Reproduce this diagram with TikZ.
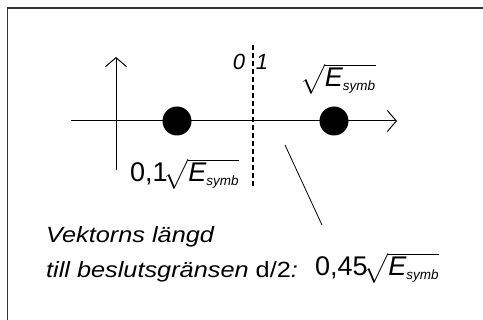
\documentclass[tikz,border=0pt]{standalone}
\usepackage{amsmath}
\usepackage{fontspec}
\setmainfont{Liberation Sans}
\newfontfamily\widefont[FakeStretch=1.15]{Liberation Sans}
\usetikzlibrary{arrows.meta,positioning}
\newcommand{\Esymb}{\!\sqrt{\textit{E}_{\mbox{\fontsize{13.5}{16}\selectfont\itshape symb}}}}

\begin{document}
\begin{tikzpicture}[x=1pt,y=-1pt,
  axis/.style={line width=1pt,-{Straight Barb[length=9pt,width=21pt]}},
  dot/.style={circle,fill=black,inner sep=0pt,minimum size=29pt},
  lbl/.style={inner sep=0pt,anchor=base west,font=\fontsize{27}{32}\selectfont},
  bit/.style={inner sep=0pt,font=\fontsize{22}{26}\selectfont\itshape},
  txt/.style={inner sep=0pt,anchor=base west,font=\widefont\fontsize{22}{26}\selectfont}
]
  \useasboundingbox (0,0) rectangle (483,320);
  \clip (0,0) rectangle (483,320);
  \draw[line width=1.6pt,black!80] (7.5,8) rectangle (500,340);

  \coordinate (xs) at (71,121);
  \coordinate (xe) at (397,121);
  \coordinate (ys) at (116,170);
  \coordinate (ye) at (116,57);
  \coordinate (bt) at (253,45);
  \coordinate (bb) at (253,187);
  \coordinate (ls) at (285,145);
  \coordinate (le) at (322,225);

  \draw[axis] (xs) -- (xe);
  \draw[axis] (ys) -- (ye);
  \draw[line width=1.2pt,dash pattern=on 5pt off 3pt] (bt) -- (bb);
  \draw[line width=0.8pt] (ls) -- (le);

  \node[dot] (s0) at (177,121) {};
  \node[dot] (s1) at (334,121) {};

  \node[bit] (b0) at (239,62) {0};
  \node[bit] (b1) at (262,62) {1};

  \node[lbl] (e1) at (304,87) {$\Esymb$};
  \node[lbl] (e0) at (130,182) {0,1$\Esymb$};

  \node[txt] (vek) at (46,243) {\itshape Vektorns längd};
  \node[txt] (till) at (46,278) {{\itshape till beslutsgränsen} d/2\textit{:}};
  \node[lbl] (half) at (315,276) {0,45$\Esymb$};
\end{tikzpicture}
\end{document}
